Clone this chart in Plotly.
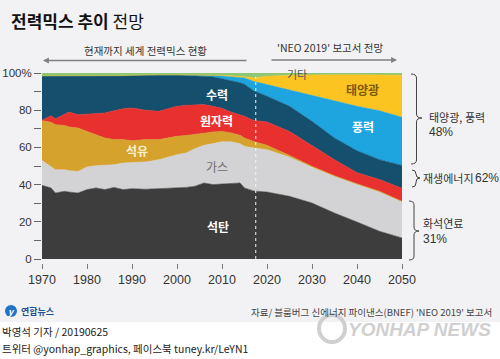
import plotly.graph_objects as go

# ---- data (shares of world power mix, %) ----
years = [1970, 1972, 1973, 1975, 1976, 1978, 1980, 1982, 1984, 1986, 1988, 1990, 1993, 1996,
         2000, 2002, 2004, 2006, 2008, 2010, 2012, 2014, 2015, 2017,
         2020, 2025, 2030, 2035, 2040, 2045, 2050]
coal    = [39.6, 38.2, 35.5, 36.4, 36.0, 35.5, 37.3, 38.2, 37.3, 38.5, 37.3, 37.8, 37.5, 37.8,
           38.2, 38.5, 39.1, 40.9, 40.0, 40.4, 40.6, 40.9, 38.2, 36.6,
           36.0, 33.7, 30.1, 24.7, 19.9, 14.9, 11.3]
gas     = [13.3, 11.6, 12.5, 11.6, 11.5, 11.6, 12.2, 12.0, 13.2, 12.2, 14.3, 14.1, 14.7, 15.6,
           17.9, 18.5, 20.2, 20.2, 22.0, 22.6, 22.4, 21.1, 22.4, 23.1,
           22.8, 21.0, 19.2, 19.7, 20.1, 21.1, 19.4]
oil     = [21.5, 23.7, 24.2, 23.8, 23.5, 23.3, 19.1, 16.6, 14.5, 13.5, 12.6, 11.7, 12.0, 10.8,
           9.9, 9.4, 7.5, 6.5, 6.3, 5.6, 4.8, 4.5, 4.4, 3.5,
           2.3, 1.0, 0.5, 0.4, 0.4, 0.4, 0.3]
nuclear = [0.2, 3.5, 3.2, 5.8, 8.0, 7.2, 9.4, 11.4, 13.5, 15.5, 16.6, 17.6, 15.8, 15.2,
           16.1, 16.2, 16.2, 15.4, 13.8, 12.4, 11.2, 10.9, 11.7, 11.3,
           12.6, 12.9, 11.3, 8.6, 6.0, 6.3, 7.0]
hydro   = [23.9, 21.5, 23.2, 21.0, 19.6, 21.0, 20.6, 20.4, 20.0, 18.5, 17.8, 17.6, 19.0, 19.6,
           16.9, 16.2, 15.6, 15.4, 15.8, 15.9, 17.0, 17.4, 17.3, 16.0,
           13.8, 13.5, 12.9, 11.6, 11.8, 10.7, 12.3]
wind    = [0, 0, 0, 0, 0, 0, 0, 0, 0, 0, 0, 0, 0, 0,
           0, 0.2, 0.3, 0.5, 0.9, 1.5, 1.9, 2.7, 3.3, 5.0,
           6.2, 8.9, 14.0, 19.8, 23.9, 26.3, 25.9]
solar   = [0, 0, 0, 0, 0, 0, 0, 0, 0, 0, 0, 0, 0, 0,
           0, 0, 0, 0, 0.1, 0.3, 0.6, 0.7, 0.7, 1.8,
           4.5, 7.8, 11.1, 14.2, 16.9, 19.3, 22.6]
other   = [1.5, 1.5, 1.4, 1.4, 1.4, 1.4, 1.4, 1.4, 1.5, 1.8, 1.4, 1.2, 1.0, 1.0,
           1.0, 1.0, 1.1, 1.1, 1.1, 1.3, 1.5, 1.8, 2.0, 2.7,
           1.8, 1.2, 0.9, 1.0, 1.0, 1.0, 1.2]

x_ticks = [1970, 1980, 1990, 2000, 2010, 2020, 2030, 2040, 2050]
y_ticks = list(range(0, 101, 10))
y_ticktext = ["0", "", "20", "", "40", "", "60", "", "80", "", "100%"]
forecast_start = 2017.5

W, H = 500, 359
def X(p): return p / W
def Y(p): return 1 - p / H

KR = "Noto Sans CJK KR, sans-serif"
NUM = "Liberation Sans Narrow, Liberation Sans, Arial, sans-serif"
BG = "#f2f2f4"

series = [
    ("석탄", coal, "#3d3d3d"),
    ("가스", gas, "#d3d3d5"),
    ("석유", oil, "#d5a22c"),
    ("원자력", nuclear, "#e8302e"),
    ("수력", hydro, "#144f6d"),
    ("풍력", wind, "#1ea5e0"),
    ("태양광", solar, "#fbc420"),
    ("기타", other, "#8fc874"),
]

fig = go.Figure()
for name, vals, col in series:
    fig.add_trace(go.Scatter(
        x=years, y=vals, name=name, stackgroup="mix", mode="lines",
        line=dict(width=0.6, color=col), fillcolor=col, hoverinfo="skip"))

fig.update_layout(
    width=W, height=H, margin=dict(l=0, r=0, t=0, b=0, pad=0, autoexpand=False),
    paper_bgcolor=BG, plot_bgcolor=BG, showlegend=False,
    xaxis=dict(domain=[X(42), X(402)], range=[1970, 2050], anchor="free", position=Y(263),
               tickvals=x_ticks, ticks="outside", ticklen=5, tickwidth=1, tickcolor="#777",
               showgrid=False, zeroline=False, showline=False, automargin=False,
               tickfont=dict(family=NUM, size=12.5, color="#333")),
    yaxis=dict(domain=[Y(259), Y(73)], range=[0, 100], anchor="free", position=X(41),
               tickvals=y_ticks, ticktext=y_ticktext, ticks="outside", ticklen=7, tickwidth=1,
               tickcolor="#666", showgrid=False, zeroline=False, showline=False, automargin=False,
               tickfont=dict(family=NUM, size=11.5, color="#333")),
)

shapes = []
shapes.append(dict(type="rect", xref="paper", yref="paper", x0=0, x1=1, y0=0, y1=Y(322),
                   fillcolor="white", line=dict(width=0), layer="below"))
shapes.append(dict(type="line", xref="x", yref="y", x0=forecast_start, x1=forecast_start, y0=0, y1=98,
                   line=dict(color="#f4f4f4", width=1, dash="dot")))

def brace(x0, xm, xt, y1, ym, y2, r=4):
    return (f"M {X(x0)},{Y(y1)} Q {X(xm)},{Y(y1)} {X(xm)},{Y(y1 + r)} "
            f"L {X(xm)},{Y(ym - r)} Q {X(xm)},{Y(ym)} {X(xt)},{Y(ym)} "
            f"Q {X(xm)},{Y(ym)} {X(xm)},{Y(ym + r)} L {X(xm)},{Y(y2 - r)} "
            f"Q {X(xm)},{Y(y2)} {X(x0)},{Y(y2)}")

for b in [(411, 416.5, 422, 74, 118, 164), (412, 416, 420, 170, 178, 187), (409, 414, 419, 201, 231, 260)]:
    shapes.append(dict(type="path", xref="paper", yref="paper", path=brace(*b),
                       line=dict(color="#444", width=1)))

shapes.append(dict(type="circle", xref="paper", yref="paper", x0=X(5), x1=X(17), y0=Y(317), y1=Y(305),
                   fillcolor="#1f74c8", line=dict(width=0)))
shapes.append(dict(type="circle", xref="paper", yref="paper", x0=X(319), x1=X(345), y0=Y(342), y1=Y(315),
                   fillcolor="rgba(0,0,0,0)", line=dict(color="#cfcfcf", width=4)))
fig.update_layout(shapes=shapes)

ann = []
def txt(s, x, y, size, color, xanchor="left", font=KR, yanchor="middle"):
    ann.append(dict(text=s, x=X(x), y=Y(y), xref="paper", yref="paper", showarrow=False,
                    xanchor=xanchor, yanchor=yanchor, font=dict(family=font, size=size, color=color)))

def dtxt(s, x, y, size, color):
    ann.append(dict(text=s, x=x, y=y, xref="x", yref="y", showarrow=False,
                    font=dict(family=KR, size=size, color=color)))

txt("<b>전력믹스 추이</b> 전망", 9, 20, 17, "#111")
txt("현재까지 세계 전력믹스 현황", 145, 50, 10.5, "#333", xanchor="center")
txt("'NEO 2019' 보고서 전망", 330, 47, 10.5, "#333", xanchor="center")
ann.append(dict(x=X(43), y=Y(60.5), xref="paper", yref="paper", ax=205, ay=0, text="",
                showarrow=True, arrowhead=2, arrowsize=0.9, arrowwidth=1.3, arrowcolor="#808080"))
ann.append(dict(x=X(397), y=Y(60), xref="paper", yref="paper", ax=-127, ay=0, text="",
                showarrow=True, arrowhead=2, arrowsize=0.9, arrowwidth=1.3, arrowcolor="#808080"))

dtxt("<b>수력</b>", 2008.8, 88.2, 12, "white")
dtxt("<b>원자력</b>", 2008.8, 74.7, 12, "white")
dtxt("<b>석유</b>", 1991.0, 58.2, 12, "#fbeecb")
dtxt("가스", 2008.8, 49.6, 12, "#6f6f6f")
dtxt("<b>석탄</b>", 2009.1, 17.4, 12, "white")
dtxt("기타", 2026.6, 99.3, 11, "#555")
dtxt("<b>태양광</b>", 2041.3, 91.4, 12, "#7a5a10")
dtxt("<b>풍력</b>", 2041.3, 71.3, 12, "white")

txt("태양광, 풍력", 427, 117, 11, "#333")
txt("48%", 427, 132, 12, "#333", font=NUM)
txt("재생에너지", 421, 178, 11, "#333")
txt("62%", 473, 178, 12, "#333", font=NUM)
txt("화석연료", 421, 223, 11, "#333")
txt("31%", 421, 239, 12, "#333", font=NUM)

txt("<b><i>y</i></b>", 11, 311, 9, "white", xanchor="center")
txt("<b>연합뉴스</b>", 18.5, 311, 9, "#1d4f93")
txt("자료/ 블룸버그 신에너지 파이낸스(BNEF) 'NEO 2019' 보고서", 494, 312, 9.5, "#444", xanchor="right")
txt("박영석 기자 / 20190625", 0, 331.5, 10.5, "#222")
txt("트위터 @yonhap_graphics, 페이스북 tuney.kr/LeYN1", 0, 348, 10.5, "#222")
txt("<b><i>YONHAP NEWS</i></b>", 346, 329, 19, "#d0d0d0", font="Liberation Sans, Arial, sans-serif")

fig.update_layout(annotations=ann)
fig.write_html("out.html", config={"displayModeBar": False, "staticPlot": True},
               post_script="document.body.style.margin='0';document.body.style.overflow='hidden';")
